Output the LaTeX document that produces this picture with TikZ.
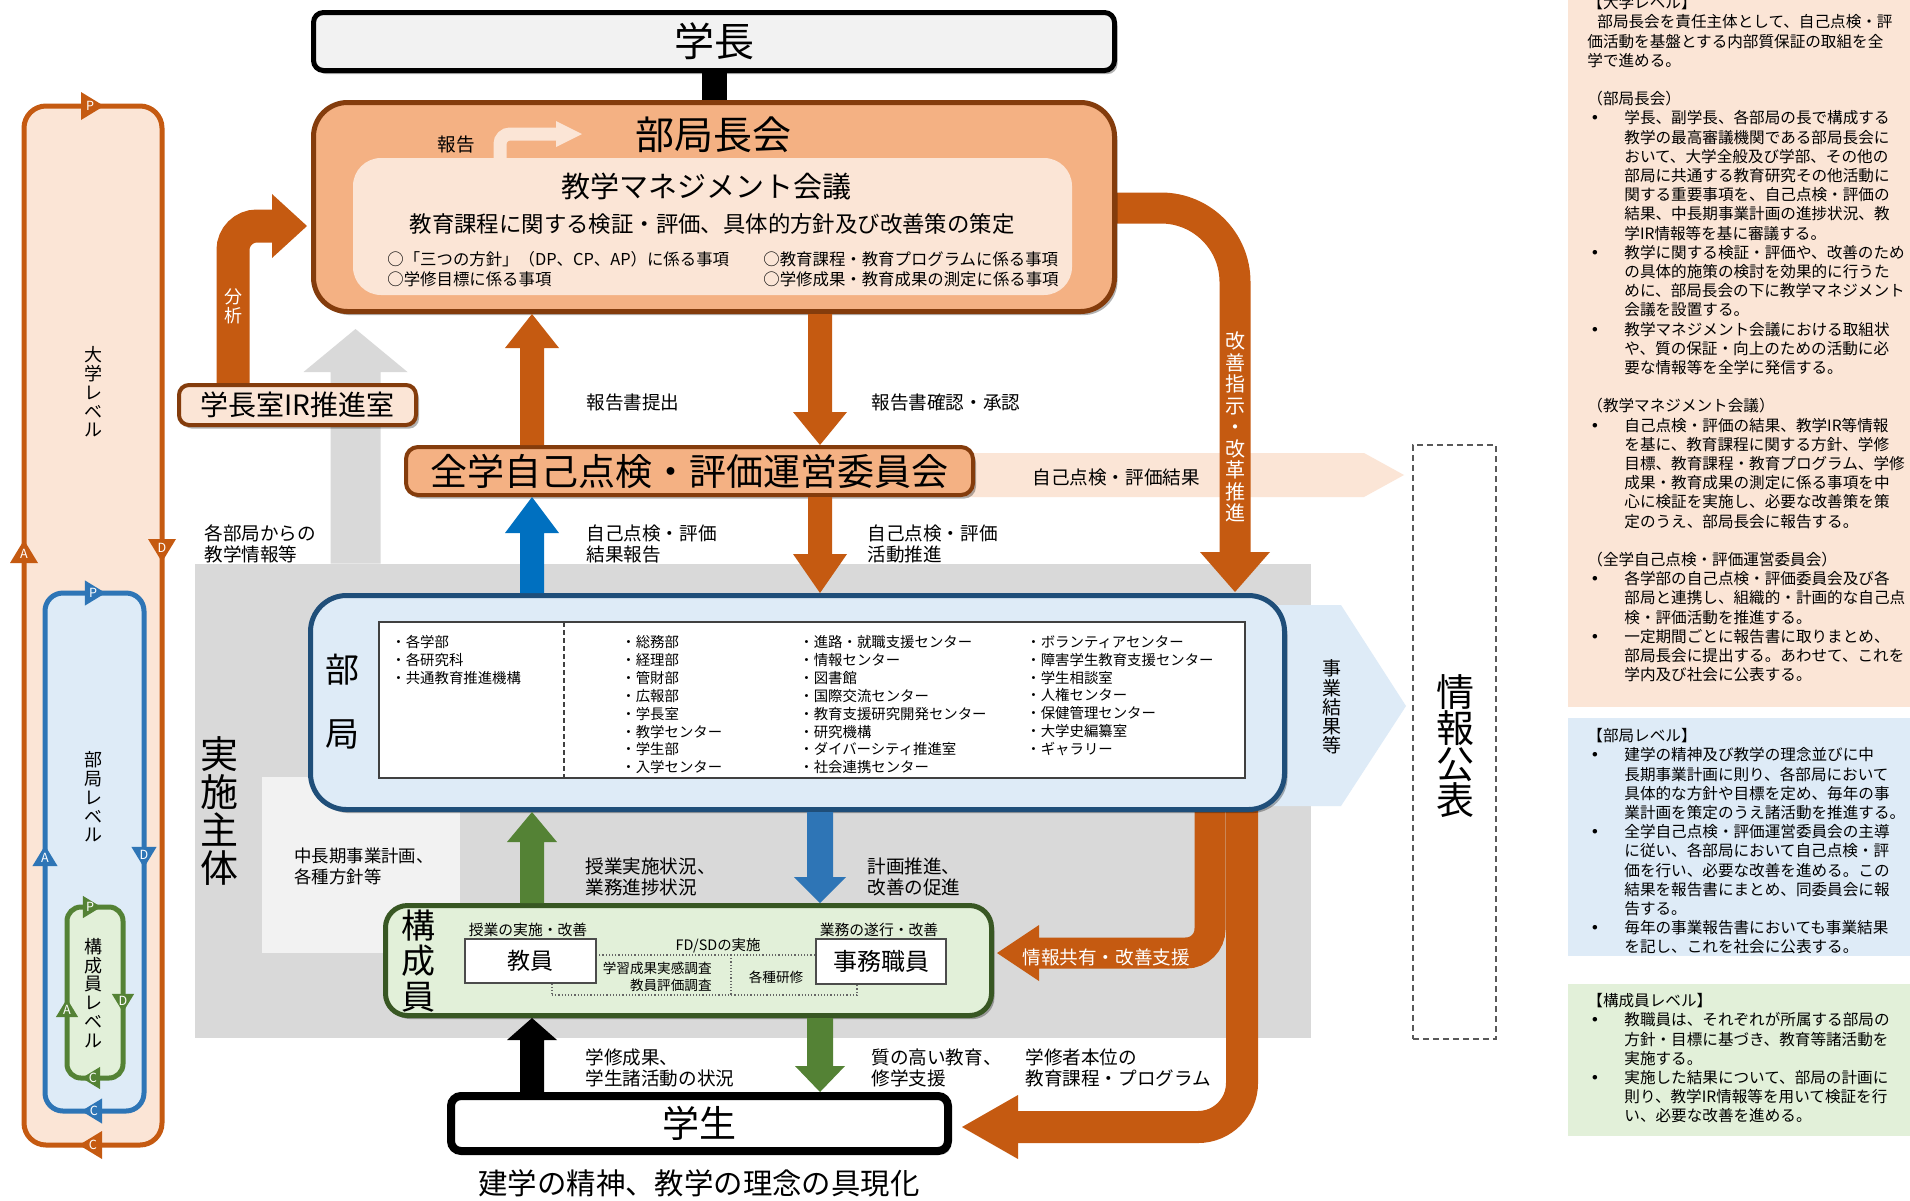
\documentclass[tikz,border=0pt]{standalone}
\usepackage{fontspec}
\setmainfont{Noto Sans CJK JP}
\newfontfamily\dejavu{DejaVu Sans}
\usetikzlibrary{calc,shadows}
\definecolor{orA}{HTML}{C55A11}
\definecolor{brB}{HTML}{843C0C}
\definecolor{salm}{HTML}{F4B183}
\definecolor{peach}{HTML}{FBE5D6}
\definecolor{lblue}{HTML}{DEEBF7}
\definecolor{dblue}{HTML}{1F4E79}
\definecolor{blA}{HTML}{0070C0}
\definecolor{blB}{HTML}{2E75B6}
\definecolor{grA}{HTML}{548235}
\definecolor{grB}{HTML}{385723}
\definecolor{lgreen}{HTML}{E2F0D9}
\definecolor{greyR}{HTML}{D9D9D9}
\definecolor{greyL}{HTML}{F2F2F2}
\newcommand{\fsz}[2]{\fontsize{#1}{#2}\selectfont\lineskiplimit=-100pt\relax}
\newcommand{\pbul}{\makebox[18.5pt][l]{\hspace*{1.5pt}{\dejavu •}}}
\newcommand{\pind}{\hspace*{18.5pt}}
% block arrow: color, start, tip, shaft half width, head half width, head length
\newcommand{\BArrow}[6]{%
  \path ($(#3)!#6!(#2)$) coordinate (bahead);
  \fill[#1] ($(#2)!#4!90:(#3)$) -- ($(bahead)!#4!90:(#3)$) -- ($(bahead)!#5!90:(#3)$) -- (#3)
    -- ($(bahead)!#5!-90:(#3)$) -- ($(bahead)!#4!-90:(#3)$) -- ($(#2)!#4!-90:(#3)$) -- cycle;}
% PDCA marker: color, x, y, rotation, letter, scale
\newcommand{\pdcamark}[6]{%
  \fill[#1, shift={(#2,#3)}, rotate=#4, scale=#6] (-9,-14) -- (14,0) -- (-9,14) -- cycle;
  \node[text=white, inner sep=0pt, font=\fsz{6.3pt}{6.3pt}] at (#2,#3) {#5};}
\tikzset{
  lab/.style={inner sep=0pt, align=left, font=\fsz{9.3pt}{10.5pt}},
  ptext/.style={inner sep=0pt, align=left, anchor=north west, font=\fsz{7.8pt}{9.6pt}},
  vtx/.style={inner sep=0pt, align=center},
  tcol/.style={inner sep=0pt, align=left, anchor=north west, font=\fsz{7.2pt}{8.95pt}},
  bxs/.style={inner sep=0pt},
  shd/.style={drop shadow={shadow xshift=1.5pt, shadow yshift=-1.8pt, opacity=0.3, fill=black}},
}
\begin{document}
\begin{tikzpicture}[x=0.5pt,y=-0.5pt]
\useasboundingbox (0,0) rectangle (1910,1200);
\fill[white] (0,0) rectangle (1910,1200);

% ---------- right-hand explanation panels ----------
\fill[peach] (1568,0) rectangle (1910,707);
\fill[lblue] (1568,718) rectangle (1910,956);
\fill[lgreen] (1568,984) rectangle (1910,1136);
\begin{scope}
\clip (1568,0) rectangle (1910,707);
\node[ptext] (p1) at (1587,-5) {%
【大学レベル】\\
\hspace*{5pt}部局長会を責任主体として、自己点検・評\\
価活動を基盤とする内部質保証の取組を全\\
学で進める。\\
\mbox{}\\
（部局長会）\\
\pbul 学長、副学長、各部局の長で構成する\\
\pind 教学の最高審議機関である部局長会に\\
\pind おいて、大学全般及び学部、その他の\\
\pind 部局に共通する教育研究その他活動に\\
\pind 関する重要事項を、自己点検・評価の\\
\pind 結果、中長期事業計画の進捗状況、教\\
\pind 学IR情報等を基に審議する。\\
\pbul 教学に関する検証・評価や、改善のため\\
\pind の具体的施策の検討を効果的に行うた\\
\pind めに、部局長会の下に教学マネジメント\\
\pind 会議を設置する。\\
\pbul 教学マネジメント会議における取組状\\
\pind や、質の保証・向上のための活動に必\\
\pind 要な情報等を全学に発信する。\\
\mbox{}\\
（教学マネジメント会議）\\
\pbul 自己点検・評価の結果、教学IR等情報\\
\pind を基に、教育課程に関する方針、学修\\
\pind 目標、教育課程・教育プログラム、学修\\
\pind 成果・教育成果の測定に係る事項を中\\
\pind 心に検証を実施し、必要な改善策を策\\
\pind 定のうえ、部局長会に報告する。\\
\mbox{}\\
（全学自己点検・評価運営委員会）\\
\pbul 各学部の自己点検・評価委員会及び各\\
\pind 部局と連携し、組織的・計画的な自己点\\
\pind 検・評価活動を推進する。\\
\pbul 一定期間ごとに報告書に取りまとめ、\\
\pind 部局長会に提出する。あわせて、これを\\
\pind 学内及び社会に公表する。};
\end{scope}
\node[ptext] (p2) at (1587,728) {%
【部局レベル】\\
\pbul 建学の精神及び教学の理念並びに中\\
\pind 長期事業計画に則り、各部局において\\
\pind 具体的な方針や目標を定め、毎年の事\\
\pind 業計画を策定のうえ諸活動を推進する。\\
\pbul 全学自己点検・評価運営委員会の主導\\
\pind に従い、各部局において自己点検・評\\
\pind 価を行い、必要な改善を進める。この\\
\pind 結果を報告書にまとめ、同委員会に報\\
\pind 告する。\\
\pbul 毎年の事業報告書においても事業結果\\
\pind を記し、これを社会に公表する。};
\node[ptext] (p3) at (1587,993) {%
【構成員レベル】\\
\pbul 教職員は、それぞれが所属する部局の\\
\pind 方針・目標に基づき、教育等諸活動を\\
\pind 実施する。\\
\pbul 実施した結果について、部局の計画に\\
\pind 則り、教学IR情報等を用いて検証を行\\
\pind い、必要な改善を進める。};

% ---------- PDCA loops ----------
\draw[orA, line width=2.5pt, fill=peach, rounded corners=11pt] (24,106) rectangle (162,1145);
\draw[blB, line width=2.5pt, fill=lblue, rounded corners=9pt] (45,593) rectangle (144,1111);
\draw[grA, line width=2.5pt, fill=lgreen, rounded corners=7pt] (67,907) rectangle (123,1078);
\pdcamark{orA}{90}{106}{0}{P}{1}
\pdcamark{orA}{162}{548}{-90}{D}{1}
\pdcamark{orA}{93}{1145}{180}{C}{1}
\pdcamark{orA}{24}{554}{90}{A}{1}
\pdcamark{blB}{93}{593}{0}{P}{0.9}
\pdcamark{blB}{144}{855}{-90}{D}{0.9}
\pdcamark{blB}{94}{1111}{180}{C}{0.9}
\pdcamark{blB}{45}{858}{90}{A}{0.9}
\pdcamark{grA}{90}{907}{0}{P}{0.8}
\pdcamark{grA}{123}{1001}{-90}{D}{0.8}
\pdcamark{grA}{93}{1078}{180}{C}{0.8}
\pdcamark{grA}{67}{1010}{90}{A}{0.8}
\node[vtx, font=\fsz{9pt}{9.4pt}] (lvU) at (93,392) {大\\学\\レ\\ベ\\ル};
\node[vtx, font=\fsz{9pt}{9.4pt}] (lvB) at (93,797) {部\\局\\レ\\ベ\\ル};
\node[vtx, font=\fsz{9pt}{9.4pt}] (lvK) at (93,993) {構\\成\\員\\レ\\ベ\\ル};

% ---------- implementation area ----------
\node[bxs, fill=greyR, minimum width=558pt, minimum height=237pt] (jisshi) at (753,801) {};
\node[bxs, fill=greyL, minimum width=99pt, minimum height=88pt] (light) at (361,865) {};
\node[vtx, font=\fsz{19pt}{19pt}] (jsT) at (219,811) {実\\施\\主\\体};

\coordinate (xA) at (532,0);
\coordinate (xB) at (820,0);
\coordinate (xG) at (355.5,0);
\coordinate (gtip) at (355.5,329);
\BArrow{greyR}{jisshi.north -| xG}{gtip}{12.5pt}{26pt}{21.5pt}

% pale arrows
\fill[peach] (960,453) -- (1364,453) -- (1404,475) -- (1364,497) -- (960,497) -- cycle;
\fill[lblue] (1250,605) -- (1341,605) -- (1406,706) -- (1341,806) -- (1250,806) -- cycle;

% big orange arrows
\coordinate (kz0) at (1100,208);
\coordinate (kz1) at (1235,208);
\coordinate (kz2) at (1235,552);
\coordinate (kzt) at (1235,592);
\draw[orA, line width=15.5pt, rounded corners=37pt] (kz0) -- (kz1) -- (kz2);
\fill[orA] (1200,552) -- (kzt) -- (1270,552) -- cycle;
\coordinate (js0) at (1210,790);
\coordinate (js1) at (1210,953);
\coordinate (js2) at (1039,953);
\coordinate (jst) at (997,953);
\draw[orA, line width=15.5pt, rounded corners=12pt] (js0) -- (js1) -- (js2);
\fill[orA] (1039,925) -- (jst) -- (1039,981) -- cycle;
\coordinate (gh0) at (1242,790);
\coordinate (gh1) at (1242,1127);
\coordinate (gh2) at (1018,1127);
\coordinate (ght) at (962,1127);
\draw[orA, line width=16pt, rounded corners=22pt] (gh0) -- (gh1) -- (gh2);
\fill[orA] (1018,1095) -- (ght) -- (1018,1159) -- cycle;
% analysis arrow
\coordinate (bs0) at (233,384);
\coordinate (bs1) at (233,226);
\coordinate (bs2) at (272,226);
\coordinate (bst) at (307,226);
\draw[orA, line width=16.5pt, rounded corners=12pt] (bs0) -- (bs1) -- (bs2);
\fill[orA] (272,194) -- (bst) -- (272,258) -- cycle;

% ---------- boxes ----------
\node[bxs, shd, draw=black, line width=2.5pt, fill=greyL, rounded corners=5pt, minimum width=400.5pt, minimum height=29pt, font=\fsz{20pt}{20pt}] (gakucho) at (714,41.5) {学長};
\node[bxs, shd, draw=brB, line width=2.5pt, fill=salm, rounded corners=17pt, minimum width=400.5pt, minimum height=104.5pt] (bkc) at (714,207) {};
\draw[line width=12.5pt] (gakucho.south) -- (bkc.north);
\node[inner sep=0pt, font=\fsz{19.5pt}{20pt}] (bkcT) at (713,135) {部局長会};
\node[bxs, fill=peach, rounded corners=14pt, minimum width=359.5pt, minimum height=68.5pt] (mgmt) at (712.5,226.5) {};
\node[inner sep=0pt, font=\fsz{14.5pt}{15pt}] (mgmtT) at (706,187) {教学マネジメント会議};
\node[inner sep=0pt, font=\fsz{11.2pt}{12pt}] (mgmtS) at (712,224) {教育課程に関する検証・評価、具体的方針及び改善策の策定};
\node[inner sep=0pt, align=left, anchor=west, font=\fsz{8.2pt}{10pt}] (mgL) at (387,269) {○「三つの方針」（DP、CP、AP）に係る事項\\○学修目標に係る事項};
\node[inner sep=0pt, align=left, anchor=west, font=\fsz{8.2pt}{10pt}] (mgR) at (763,269) {○教育課程・教育プログラムに係る事項\\○学修成果・教育成果の測定に係る事項};
\node[inner sep=0pt, font=\fsz{9.3pt}{10pt}] (hokoku) at (456,145) {報告};
\coordinate (hk0) at (500,158);
\coordinate (hk1) at (500,134);
\coordinate (hk2) at (556,134);
\coordinate (hkt) at (582,134);
\draw[peach, line width=6.5pt, rounded corners=5pt] (hk0) -- (hk1) -- (hk2);
\fill[peach] (556,121) -- (hkt) -- (556,147) -- cycle;

\node[bxs, shd, draw=brB, line width=2pt, fill=peach, rounded corners=5pt, minimum width=118.5pt, minimum height=20pt, font=\fsz{14pt}{14pt}] (ir) at (297.5,405) {学長室IR推進室};
\node[vtx, text=white, font=\fsz{9pt}{9.5pt}] (bunseki) at (233,306) {分\\析};
\node[vtx, text=white, font=\fsz{10pt}{10.75pt}] (kzT) at (1235,427) {改\\善\\指\\示\\・\\改\\革\\推\\進};

\node[bxs, shd, draw=brB, line width=2pt, fill=salm, rounded corners=6pt, minimum width=283.5pt, minimum height=24pt, font=\fsz{18.5pt}{19pt}] (zg) at (689.5,471) {全学自己点検・評価運営委員会};

\node[bxs, shd, draw=dblue, line width=2.5pt, fill=lblue, rounded corners=18pt, minimum width=487pt, minimum height=107pt] (bk) at (797.5,702.5) {};
\node[inner sep=0pt, font=\fsz{17pt}{17pt}] (bkT1) at (342,670) {部};
\node[inner sep=0pt, font=\fsz{17pt}{17pt}] (bkT2) at (342,734) {局};
\node[bxs, draw=black!75, line width=0.6pt, fill=white, minimum width=433pt, minimum height=78pt] (tb) at (812,700) {};
\draw[black!75, line width=0.6pt, dash pattern=on 2.5pt off 1.5pt] (564,622) -- (564,778);
\node[tcol] (c1) at (391,635) {・各学部\\・各研究科\\・共通教育推進機構};
\node[tcol] (c2) at (621,635) {・総務部\\・経理部\\・管財部\\・広報部\\・学長室\\・教学センター\\・学生部\\・入学センター};
\node[tcol] (c3) at (799,635) {・進路・就職支援センター\\・情報センター\\・図書館\\・国際交流センター\\・教育支援研究開発センター\\・研究機構\\・ダイバーシティ推進室\\・社会連携センター};
\node[tcol] (c4) at (1026,635) {・ボランティアセンター\\・障害学生教育支援センター\\・学生相談室\\・人権センター\\・保健管理センター\\・大学史編纂室\\・ギャラリー};
\node[vtx, font=\fsz{9.5pt}{9.6pt}] (jgT) at (1332,707) {事\\業\\結\\果\\等};

\node[bxs, shd, draw=grB, line width=2.5pt, fill=lgreen, rounded corners=11pt, minimum width=303pt, minimum height=55pt] (ko) at (688.5,960.5) {};
\node[vtx, font=\fsz{17pt}{17.75pt}] (koT) at (418,961) {構\\成\\員};
\node[bxs, draw=black!60, densely dotted, line width=0.6pt, minimum width=152.5pt, minimum height=20pt] (fd) at (704.5,975) {};
\draw[black!60, densely dotted, line width=0.6pt] (731,955) -- (731,995);
\node[bxs, draw=black!70, line width=0.8pt, fill=white, minimum width=65.5pt, minimum height=22pt, font=\fsz{11.5pt}{12pt}] (ky) at (530.5,961) {教員};
\node[bxs, draw=black!70, line width=0.8pt, fill=white, minimum width=65pt, minimum height=22.5pt, font=\fsz{12pt}{12pt}] (jm) at (881,961.5) {事務職員};
\node[inner sep=0pt, font=\fsz{7.4pt}{8pt}] (kyL) at (528,930) {授業の実施・改善};
\node[inner sep=0pt, font=\fsz{7.4pt}{8pt}] (jmL) at (879,930) {業務の遂行・改善};
\node[inner sep=0pt, font=\fsz{7.2pt}{8pt}] (fdL) at (718,946) {FD/SDの実施};
\node[inner sep=0pt, align=right, anchor=east, font=\fsz{6.8pt}{8.3pt}] (svL) at (712,977) {学習成果実感調査\\教員評価調査};
\node[inner sep=0pt, font=\fsz{6.8pt}{7pt}] (ksL) at (776,977) {各種研修};

\node[bxs, shd, draw=black, line width=4pt, fill=white, rounded corners=5pt, minimum width=248.5pt, minimum height=27.5pt, font=\fsz{18.5pt}{19pt}] (gs) at (699.5,1123.5) {学生};

\node[bxs, draw=black!65, line width=0.8pt, dash pattern=on 3pt off 2pt, fill=white, minimum width=41.5pt, minimum height=297pt] (jh) at (1454.5,742) {};
\node[vtx, font=\fsz{19pt}{18pt}] (jhT) at (1455,746) {情\\報\\公\\表};

% ---------- straight block arrows ----------
\BArrow{orA}{zg.north -| xA}{bkc.south -| xA}{6pt}{13.5pt}{17pt}
\BArrow{orA}{bkc.south -| xB}{zg.north -| xB}{6pt}{13.5pt}{16.5pt}
\BArrow{blA}{bk.north -| xA}{zg.south -| xA}{6pt}{13.5pt}{18pt}
\BArrow{orA}{zg.south -| xB}{bk.north -| xB}{6pt}{13.5pt}{19.5pt}
\BArrow{grA}{ko.north -| xA}{bk.south -| xA}{6pt}{12.5pt}{15pt}
\BArrow{blB}{bk.south -| xB}{ko.north -| xB}{6.5pt}{13pt}{13pt}
\BArrow{black}{gs.north -| xA}{ko.south -| xA}{6pt}{12.5pt}{11pt}
\BArrow{grA}{ko.south -| xB}{gs.north -| xB}{6.5pt}{12.5pt}{13pt}

% ---------- labels ----------
\node[lab, anchor=west] (l1) at (586,402) {報告書提出};
\node[lab, anchor=west] (l2) at (871,402) {報告書確認・承認};
\node[lab, anchor=west] (l3) at (1032,477) {自己点検・評価結果};
\node[lab, anchor=west] (l4) at (204,544) {各部局からの\\教学情報等};
\node[lab, anchor=west] (l5) at (586,544) {自己点検・評価\\結果報告};
\node[lab, anchor=west] (l6) at (867,544) {自己点検・評価\\活動推進};
\node[lab, anchor=west, font=\fsz{8.7pt}{10.5pt}] (l7) at (294,866) {中長期事業計画、\\各種方針等};
\node[lab, anchor=west] (l8) at (585,877) {授業実施状況、\\業務進捗状況};
\node[lab, anchor=west] (l9) at (867,877) {計画推進、\\改善の促進};
\node[lab, anchor=west, text=white] (l10) at (1022,957) {情報共有・改善支援};
\node[lab, anchor=west] (l11) at (585,1068) {学修成果、\\学生諸活動の状況};
\node[lab, anchor=west] (l12) at (871,1068) {質の高い教育、\\修学支援};
\node[lab, anchor=west] (l13) at (1025,1068) {学修者本位の\\教育課程・プログラム};
\node[inner sep=0pt, font=\fsz{14.7pt}{15pt}] (l14) at (699,1183) {建学の精神、教学の理念の具現化};
\end{tikzpicture}
\end{document}
